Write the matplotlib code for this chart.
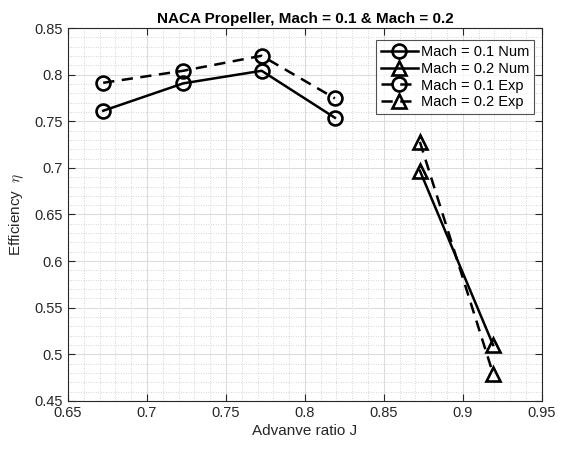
import numpy as np
import matplotlib.pyplot as plt
from matplotlib.ticker import MultipleLocator, FuncFormatter

plt.rcParams['font.family'] = ['Liberation Sans', 'DejaVu Sans']
plt.rcParams['mathtext.fontset'] = 'cm'

# Mach = 0.1
J1 = [0.6723, 0.7230, 0.7726, 0.8190]
eta1_num = [0.7613, 0.7907, 0.8042, 0.7538]
eta1_exp = [0.7913, 0.8042, 0.8203, 0.7746]

# Mach = 0.2
J2 = [0.8728, 0.9192]
eta2_num = [0.6970, 0.5100]
eta2_exp = [0.7280, 0.4790]

fig = plt.figure(figsize=(5.62, 4.53), dpi=100)
ax = fig.add_axes([0.121, 0.115, 0.843, 0.823])

st = dict(color='k', lw=1.8, ms=10, mew=1.9, mfc='none')
ax.plot(J1, eta1_num, '-o', label='Mach = 0.1 Num', **st)
ax.plot(J2, eta2_num, '-^', label='Mach = 0.2 Num', **st)
ax.plot(J1, eta1_exp, '--o', label='Mach = 0.1 Exp', dashes=(4.5, 3), **st)
ax.plot(J2, eta2_exp, '--^', label='Mach = 0.2 Exp', dashes=(4.5, 3), **st)

ax.set_xlim(0.65, 0.95)
ax.set_ylim(0.45, 0.85)
ax.xaxis.set_major_locator(MultipleLocator(0.05))
ax.yaxis.set_major_locator(MultipleLocator(0.05))
ax.xaxis.set_minor_locator(MultipleLocator(0.01))
ax.yaxis.set_minor_locator(MultipleLocator(0.01))
fmt = FuncFormatter(lambda v, p: '%g' % round(v, 3))
ax.xaxis.set_major_formatter(fmt)
ax.yaxis.set_major_formatter(fmt)

ax.grid(True, which='major', color='#dcdcdc', lw=0.8)
ax.grid(True, which='minor', color='#c8c8c8', lw=0.6, ls=(0, (1, 2)))
ax.set_axisbelow(True)
ax.tick_params(which='both', direction='in', top=True, right=True, labelsize=10.5, colors='#262626')
ax.tick_params(which='major', length=5)
ax.tick_params(which='minor', length=0)
for s in ax.spines.values():
    s.set_color('#262626')
    s.set_linewidth(0.8)

ax.set_title('NACA Propeller, Mach = 0.1 & Mach = 0.2', fontsize=11, fontweight='bold', pad=4)
ax.set_xlabel('Advanve ratio J', fontsize=11, color='#262626', labelpad=3)
ax.set_ylabel(r'Efficiency  $\eta$', fontsize=11, color='#262626', labelpad=6)

leg = ax.legend(loc='upper right', bbox_to_anchor=(0.99, 0.975), fontsize=10.5, frameon=True,
                fancybox=False, edgecolor='#262626', handlelength=2.6, handletextpad=0.2,
                borderpad=0.3, labelspacing=0.2, borderaxespad=0.2)
leg.get_frame().set_linewidth(0.8)

fig.savefig('out.png', dpi=100)
